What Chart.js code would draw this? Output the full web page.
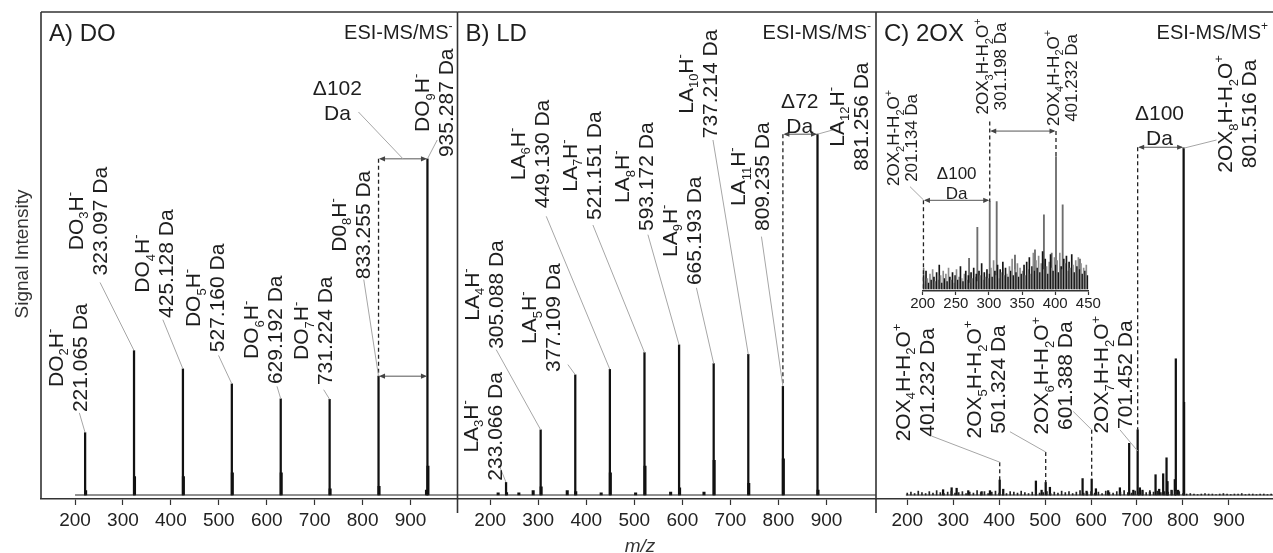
<!DOCTYPE html>
<html>
<head>
<meta charset="utf-8">
<script src="https://cdn.jsdelivr.net/npm/chart.js@4.4.1/dist/chart.umd.min.js"></script>
<style>
  body { margin: 0; background: #fff; width: 1273px; height: 553px; overflow: hidden; }
  canvas { position: absolute; left: 0; top: 0; }
</style>
</head>
<body>
<canvas id="panelA" width="1273" height="553"></canvas>
<canvas id="panelB" width="1273" height="553"></canvas>
<canvas id="panelC" width="1273" height="553"></canvas>
<canvas id="inset" width="1273" height="553"></canvas>
<script>
const W = 1273, H = 553;
const FONT = '"Liberation Sans", Arial, Helvetica, sans-serif';
const INK = '#1e1e1e';

// ---- data ----
const xTicks = [200, 300, 400, 500, 600, 700, 800, 900];
const insetTicks = [200, 250, 300, 350, 400, 450];

// A) DO, ESI-MS/MS-
const doFormula = ['DO_2H^-', 'DO_3H^-', 'DO_4H^-', 'DO_5H^-', 'DO_6H^-', 'DO_7H^-', 'D0_8H^-', 'DO_9H^-'];
const doMz = [221.065, 323.097, 425.128, 527.160, 629.192, 731.224, 833.255, 935.287];
const doInt = [12.9, 29.9, 26.1, 23.0, 19.9, 19.8, 24.6, 69.6];
const doMinorMz = [222.1, 324.1, 426.1, 528.2, 630.2, 732.2, 834.3, 933.3, 936.3];
const doMinorInt = [0.9, 3.8, 3.8, 4.6, 4.6, 1.3, 1.8, 1.0, 6.0];

// B) LD, ESI-MS/MS-
const ldFormula = ['LA_3H^-', 'LA_4H^-', 'LA_5H^-', 'LA_6H^-', 'LA_7H^-', 'LA_8H^-', 'LA_9H^-', 'LA_{10}H^-', 'LA_{11}H^-', 'LA_{12}H^-'];
const ldMz = [233.066, 305.088, 377.109, 449.130, 521.151, 593.172, 665.193, 737.214, 809.235, 881.256];
const ldInt = [2.6, 13.5, 24.9, 26.0, 29.5, 31.1, 27.2, 29.1, 22.5, 74.7];
const ldMinorMz = [216.6, 234.1, 259.7, 289.5, 306.1, 360.4, 378.1, 431.0, 450.1, 502.7, 522.2, 575.6, 594.2, 645.0, 666.2, 738.2, 810.2, 882.3];
const ldMinorInt = [0.45, 0.5, 0.45, 0.9, 1.7, 0.9, 0.7, 0.45, 4.6, 0.45, 6.0, 0.6, 1.5, 0.6, 7.2, 2.4, 7.5, 1.0];

// C) 2OX, ESI-MS/MS+
const oxFormula = ['2OX_4H-H_2O^+', '2OX_5H-H_2O^+', '2OX_6H-H_2O^+', '2OX_7H-H_2O^+', '2OX_8H-H_2O^+'];
const oxMz = [401.232, 501.324, 601.388, 701.452, 801.516];
const oxInt = [3.1, 2.6, 3.3, 13.5, 71.9];
const oxMinorMz = [278.0, 296.6, 307.5, 332.8, 361.9, 380.0, 408.9, 480.0, 492.4, 510.5, 581.6, 590.3, 610.6, 637.3, 662.8, 683.0, 692.0, 706.3, 712.0, 728.0, 740.4, 748.3, 757.0, 764.3, 766.4, 775.1, 782.3, 784.5, 789.5, 802.5];
const oxMinorInt = [1.1, 1.5, 1.4, 0.9, 0.7, 0.9, 1.2, 2.9, 1.0, 1.6, 3.4, 0.8, 1.3, 0.9, 1.5, 10.7, 1.0, 1.5, 1.0, 0.6, 4.2, 1.2, 4.4, 7.7, 2.8, 1.0, 3.2, 28.2, 1.0, 19.2];
const oxNoiseStart = 200, oxNoiseStep = 8;
const oxNoise = [0.4, 0.6, 0.3, 0.8, 0.5, 0.3, 0.7, 0.4, 0.9, 0.5, 0.3, 0.6, 0.8, 0.4, 0.5, 0.7, 0.3, 0.6, 0.4, 0.9,
  0.5, 0.7, 0.3, 0.6, 0.8, 0.4, 0.5, 0.3, 0.7, 0.6, 0.4, 0.8, 0.5, 0.3, 0.6, 0.9, 0.4, 0.5, 0.7, 0.3,
  0.6, 0.4, 0.8, 0.5, 0.7, 0.3, 0.6, 0.9, 0.4, 0.5, 0.7, 0.4, 0.6, 0.3, 0.8, 0.5, 0.4, 0.7, 0.6, 0.9,
  0.5, 0.4, 0.8, 0.6, 0.7, 0.5, 0.9, 0.6, 0.8, 0.5, 0.7, 0.6, 0.9, 0.8, 0.7,
  0.3, 0.2, 0.3, 0.2, 0.1, 0.2, 0.3, 0.2, 0.2, 0.1, 0.2, 0.3, 0.2, 0.1, 0.2, 0.2, 0.3, 0.1, 0.2, 0.2, 0.1, 0.2, 0.2, 0.1, 0.2];

// C inset, 200-450
const insetFormula = ['2OX_2H-H_2O^+', '2OX_3H-H_2O^+', '2OX_4H-H_2O^+'];
const insetMz = [201.134, 301.198, 401.232];
const insetInt = [14, 58.6, 88.9];
const insetMinorMz = [270.0, 282.5, 311.7, 339.3, 369.5, 383.0, 394.7, 411.3, 437.4];
const insetMinorInt = [20.6, 41.4, 58.6, 22.8, 26.2, 49.7, 24.0, 56.4, 20.1];
const insetNoiseStart = 201, insetNoiseStep = 2;
const insetNoise = [9, 5, 12, 7, 4, 10, 6, 13, 8, 5, 11, 6, 16, 9, 4, 12, 7, 10, 5, 14, 8, 6, 11, 4, 9,
  13, 6, 8, 15, 7, 5, 10, 12, 6, 9, 4, 11, 7, 14, 8, 10, 5, 12, 9, 17, 6, 11, 8, 13, 7,
  10, 14, 8, 19, 12, 9, 16, 7, 13, 11, 18, 9, 14, 10, 8, 15, 12, 20, 9, 13, 11, 17, 8, 14, 10,
  12, 16, 9, 18, 13, 21, 10, 15, 24, 12, 19, 14, 22, 11, 17, 25, 13, 20, 15, 10, 18, 23, 14, 12, 21,
  16, 19, 11, 24, 15, 13, 20, 17, 22, 12, 18, 14, 23, 16, 11, 19, 15, 21, 13, 17, 10, 14, 12, 16, 9];

// ---- label layout (in each panel's data units: [m/z, intensity]) ----
const doLabelPos = [[183.3, 28.4], [225.1, 56.7], [364.0, 47.9], [470.6, 40.8], [591.8, 34.2], [696.2, 34.0], [774.6, 55.9], [948.0, 81.2]];
const doLeadFrom = [[209.0, 17.0], [252.2, 44.0], [383.2, 36.3], [499.4, 28.9], [621.4, 22.5], [718.8, 21.8], [802.4, 44.6], [955.7, 73.5]];
const ldLabelPos = [[182.9, 14.2], [185.0, 41.5], [304.8, 36.7], [280.8, 70.6], [389.8, 68.2], [498.5, 65.9], [597.5, 54.7], [630.8, 85.1], [740.2, 65.9], [945.4, 78.3]];
const ldLeadFrom = [[219.4, 6.0], [212.5, 30.1], [361.7, 27.0], [316.7, 57.7], [413.8, 55.9], [528.3, 53.9], [629.2, 42.9], [663.7, 73.5], [764.6, 53.5], [913.8, 75.6]];
const oxLabelPos = [[215.7, 23.3], [370.8, 23.9], [517.0, 24.7], [647.6, 24.9], [917.0, 78.9]];
const oxLeadFrom = [[253.1, 12.2], [423.5, 13.1], [561.2, 17.3], [662.8, 13.5], [873.2, 73.5]];
const oxLeadTo = [6.8, 8.9, 13.5, 9.1, 71.8];
const insetLabelPos = [[168.7, 101.4], [303.1, 149.4], [409.5, 141.7]];
const insetLeadFrom = [[180.8, 68.7], null, null];
const insetLeadTo = [59.8, null, null];

// ---- drawing helpers ----
function richParts(s) {
  const out = [];
  let buf = '', i = 0;
  while (i < s.length) {
    const c = s[i];
    if (c === '_' || c === '^') {
      if (buf) { out.push({ t: buf, m: 'n' }); buf = ''; }
      let t;
      if (s[i + 1] === '{') { const j = s.indexOf('}', i); t = s.slice(i + 2, j); i = j + 1; }
      else { t = s[i + 1]; i += 2; }
      out.push({ t, m: c === '_' ? 'sub' : 'sup' });
    } else { buf += c; i++; }
  }
  if (buf) out.push({ t: buf, m: 'n' });
  return out;
}

function drawRich(ctx, s, x, y, size, align, style) {
  const parts = richParts(s);
  const fontOf = m => `${style || ''} ${m === 'n' ? size : Math.round(size * 0.62)}px ${FONT}`;
  let w = 0;
  parts.forEach(p => { ctx.font = fontOf(p.m); p.w = ctx.measureText(p.t).width; w += p.w; });
  let cx = align === 'right' ? x - w : align === 'left' ? x : x - w / 2;
  const base = y + size * 0.36;
  ctx.textAlign = 'left';
  ctx.textBaseline = 'alphabetic';
  parts.forEach(p => {
    ctx.font = fontOf(p.m);
    const dy = p.m === 'sub' ? size * 0.26 : p.m === 'sup' ? -size * 0.42 : 0;
    ctx.fillText(p.t, cx, base + dy);
    cx += p.w;
  });
}

function drawBlock(ctx, lines, x, y, size, gap, rotate) {
  ctx.save();
  ctx.translate(x, y);
  if (rotate) ctx.rotate(-Math.PI / 2);
  lines.forEach((ln, k) => drawRich(ctx, ln, 0, (k - (lines.length - 1) / 2) * gap, size, 'center'));
  ctx.restore();
}

function seg(ctx, x1, y1, x2, y2, color, width, dash) {
  ctx.save();
  ctx.strokeStyle = color;
  ctx.lineWidth = width;
  ctx.setLineDash(dash || []);
  ctx.beginPath();
  ctx.moveTo(x1, y1);
  ctx.lineTo(x2, y2);
  ctx.stroke();
  ctx.restore();
}

function dimArrow(ctx, x1, x2, y) {
  seg(ctx, x1 + 2, y, x2 - 2, y, '#555', 1);
  ctx.save();
  ctx.fillStyle = '#444';
  ctx.beginPath();
  ctx.moveTo(x1 + 0.5, y); ctx.lineTo(x1 + 6.5, y - 2.6); ctx.lineTo(x1 + 6.5, y + 2.6); ctx.closePath();
  ctx.moveTo(x2 - 0.5, y); ctx.lineTo(x2 - 6.5, y - 2.6); ctx.lineTo(x2 - 6.5, y + 2.6); ctx.closePath();
  ctx.fill();
  ctx.restore();
}

function labelList(formulas, mz, ints, pos, from, toV) {
  return formulas.map((f, i) => ({
    lines: [f, mz[i].toFixed(3) + ' Da'],
    mz: mz[i], at: pos[i],
    from: from ? from[i] : null,
    toV: toV && toV[i] != null ? toV[i] : ints[i]
  }));
}

function annotPlugin(cfg) {
  return {
    id: 'annot',
    afterDraw(chart) {
      const { ctx, chartArea: a, scales: { x, y } } = chart;
      const px = v => x.getPixelForValue(v), py = v => y.getPixelForValue(v);
      ctx.save();
      if (cfg.frame) {
        seg(ctx, a.left, a.top, a.right, a.top, '#333', 1.6);
        seg(ctx, a.left, a.top, a.left, a.bottom + cfg.frame.tail, '#333', 1.6);
      }
      (cfg.dashes || []).forEach(d => seg(ctx, px(d.mz), py(d.from), px(d.mz), py(d.to), '#222', 1.3, [4, 3]));
      (cfg.arrows || []).forEach(r => dimArrow(ctx, px(r.from), px(r.to), py(r.v)));
      ctx.fillStyle = INK;
      (cfg.labels || []).forEach(l => {
        if (l.from) seg(ctx, px(l.from[0]), py(l.from[1]), px(l.mz), py(l.toV), '#a6a6a6', 1);
        drawBlock(ctx, l.lines, px(l.at[0]), py(l.at[1]), cfg.labelSize, cfg.labelGap, true);
      });
      (cfg.deltas || []).forEach(d => {
        if (d.leadFrom) {
          const r = cfg.arrows[0];
          seg(ctx, px(d.leadFrom[0]), py(d.leadFrom[1]), (px(r.from) + px(r.to)) / 2, py(r.v), '#a6a6a6', 1);
        }
        ctx.fillStyle = INK;
        drawBlock(ctx, d.lines, px(d.at[0]), py(d.at[1]), cfg.deltaSize, cfg.deltaGap, false);
      });
      ctx.fillStyle = INK;
      if (cfg.title) drawRich(ctx, cfg.title, a.left + 8, 32.5, 24, 'left');
      if (cfg.mode) drawRich(ctx, cfg.mode, a.right - 5, 31.5, 20, 'right');
      if (cfg.axisTitles) {
        ctx.fillStyle = '#333';
        drawBlock(ctx, ['Signal Intensity'], 21, 254, 19, 0, true);
        drawRich(ctx, 'm/z', 640, 545, 19, 'center', 'italic');
      }
      ctx.restore();
    }
  };
}

function bars(mz, ints, thick, color) {
  return { type: 'bar', data: mz.map((m, i) => ({ x: m, y: ints[i] })), backgroundColor: color,
    barThickness: thick, grouped: false, borderWidth: 0, order: 2 };
}
function noiseBars(start, step, vals, thick, color) {
  return bars(vals.map((v, i) => start + i * step), vals, thick, color);
}
function baseline(from, to) {
  return { type: 'line', data: [{ x: from, y: 0 }, { x: to, y: 0 }], borderColor: '#222',
    borderWidth: 1.2, pointRadius: 0, order: 1 };
}

function makeChart(id, box, datasets, ticks, plugin) {
  return new Chart(document.getElementById(id), {
    type: 'bar',
    data: { datasets },
    options: {
      responsive: false, animation: false, events: [],
      layout: { padding: { left: box.left, right: W - box.right, top: box.top, bottom: 0 } },
      plugins: { legend: { display: false }, tooltip: { enabled: false } },
      scales: {
        x: {
          type: 'linear', min: box.min, max: box.max, offset: false,
          afterBuildTicks: s => { s.ticks = ticks.map(v => ({ value: v })); },
          afterFit: s => { s.height = H - box.bottom; },
          grid: { offset: false, drawOnChartArea: false, drawTicks: true, tickLength: box.tickLen, tickWidth: 1.2, tickColor: '#333' },
          border: { display: true, color: '#333', width: 1.6 },
          ticks: { color: '#222', font: { family: FONT, size: box.tickFont }, padding: box.tickPad, maxRotation: 0, autoSkip: false }
        },
        y: { display: false, min: box.ymin, max: 100 }
      }
    },
    plugins: [plugin]
  });
}

// ---- panels ----
makeChart('panelA', { left: 41, right: 457.5, top: 12, bottom: 499, min: 129, max: 998, ymin: -0.83, tickLen: 6, tickFont: 19, tickPad: 4 },
  [baseline(200, 998), bars(doMz, doInt, 1.6, '#111'), bars(doMinorMz, doMinorInt, 2.4, '#111')], xTicks,
  annotPlugin({
    frame: { tail: 0 }, title: 'A) DO', mode: 'ESI-MS/MS^-', axisTitles: true,
    labelSize: 21, labelGap: 24, deltaSize: 21, deltaGap: 25,
    labels: labelList(doFormula, doMz, doInt, doLabelPos, doLeadFrom),
    arrows: [{ from: doMz[6], to: doMz[7], v: doInt[7] }, { from: doMz[6], to: doMz[7], v: doInt[6] }],
    dashes: [{ mz: doMz[6], from: doInt[7], to: doInt[6] }],
    deltas: [{ lines: ['Δ102', 'Da'], at: [747.4, 81.7], leadFrom: [791.3, 79.3] }]
  }));

makeChart('panelB', { left: 457.5, right: 876, top: 12, bottom: 499, min: 132, max: 1003, ymin: -0.83, tickLen: 6, tickFont: 19, tickPad: 4 },
  [baseline(132, 1003), bars(ldMz, ldInt, 1.6, '#111'), bars(ldMinorMz, ldMinorInt, 2.4, '#111')], xTicks,
  annotPlugin({
    frame: { tail: 14 }, title: 'B) LD', mode: 'ESI-MS/MS^-',
    labelSize: 21, labelGap: 24, deltaSize: 21, deltaGap: 25,
    labels: labelList(ldFormula, ldMz, ldInt, ldLabelPos, ldLeadFrom),
    arrows: [{ from: ldMz[8], to: ldMz[9], v: ldInt[9] }],
    dashes: [{ mz: ldMz[8], from: ldInt[9], to: ldInt[8] }],
    deltas: [{ lines: ['Δ72', 'Da'], at: [844.4, 79.1] }]
  }));

makeChart('panelC', { left: 876, right: 1273, top: 12, bottom: 499, min: 132, max: 996, ymin: -0.83, tickLen: 6, tickFont: 19, tickPad: 4 },
  [baseline(197, 996), noiseBars(oxNoiseStart, oxNoiseStep, oxNoise, 1, '#222'), bars(oxMz, oxInt, 1.6, '#111'),
   bars(oxMinorMz, oxMinorInt, 1.6, '#111')], xTicks,
  annotPlugin({
    frame: { tail: 14 }, title: 'C) 2OX', mode: 'ESI-MS/MS^+',
    labelSize: 21, labelGap: 24, deltaSize: 21, deltaGap: 25,
    labels: labelList(oxFormula, oxMz, oxInt, oxLabelPos, oxLeadFrom, oxLeadTo),
    arrows: [{ from: oxMz[3], to: oxMz[4], v: 72.0 }],
    dashes: [{ mz: oxMz[3], from: 72.0, to: oxInt[3] }, { mz: oxMz[0], from: oxLeadTo[0], to: oxInt[0] },
             { mz: oxMz[1], from: oxLeadTo[1], to: oxInt[1] }, { mz: oxMz[2], from: oxLeadTo[2], to: oxInt[2] }],
    deltas: [{ lines: ['Δ100', 'Da'], at: [749.0, 76.7] }]
  }));

makeChart('inset', { left: 922.7, right: 1088.3, top: 140, bottom: 291, min: 200, max: 450, ymin: -1.4, tickLen: 4, tickFont: 15, tickPad: 0 },
  [{ ...noiseBars(insetNoiseStart, insetNoiseStep, insetNoise, 1, '#111'),
     backgroundColor: c => (c.dataIndex % 2 ? '#8c8c8c' : '#151515') },
   bars(insetMz, insetInt, 1.2, '#6e6e6e'), bars(insetMinorMz, insetMinorInt, 1.2, '#6e6e6e')], insetTicks,
  annotPlugin({
    labelSize: 17, labelGap: 18, deltaSize: 17, deltaGap: 20,
    labels: labelList(insetFormula, insetMz, insetInt, insetLabelPos, insetLeadFrom, insetLeadTo),
    arrows: [{ from: insetMz[0], to: insetMz[1], v: 59.5 }, { from: insetMz[1], to: insetMz[2], v: 106 }],
    dashes: [{ mz: insetMz[0], from: 59.5, to: 0 }, { mz: insetMz[1], from: 112.4, to: insetInt[1] },
             { mz: insetMz[2], from: 106, to: insetInt[2] }],
    deltas: [{ lines: ['Δ100', 'Da'], at: [251.3, 71.4] }]
  }));
</script>
</body>
</html>
